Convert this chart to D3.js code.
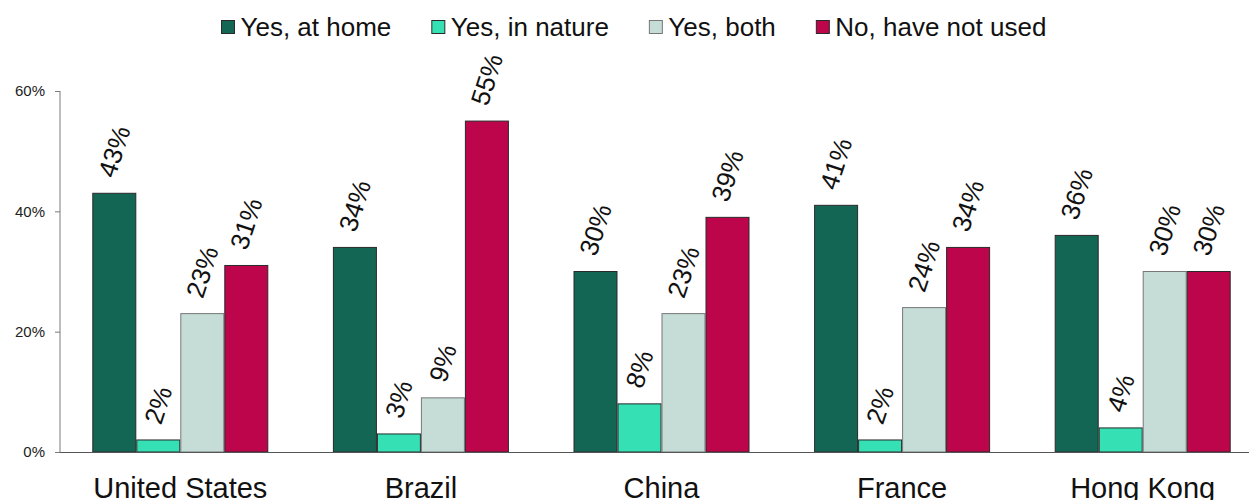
<!DOCTYPE html>
<html><head><meta charset="utf-8">
<script src="https://cdn.jsdelivr.net/npm/d3@7"></script>
<style>
html,body{margin:0;padding:0;background:#fff;}
svg{display:block;font-family:"Liberation Sans",Arial,sans-serif;}
</style></head>
<body><svg id="chart" width="1249" height="500"></svg>
<script>
const categories = ["United States","Brazil","China","France","Hong Kong"];
const seriesNames = ["Yes, at home","Yes, in nature","Yes, both","No, have not used"];
const atHome   = [43,34,30,41,36];
const inNature = [2,3,8,2,4];
const both     = [23,9,23,24,30];
const notUsed  = [31,55,39,34,30];
const yTicks = [0,20,40,60];
const colors = ["#136654","#34E0B4","#C6DDD7","#BD054C"];
const strokes = ["#2a2a2a","#2a2a2a","#777777","#2a2a2a"];

const seriesValues = [atHome,inNature,both,notUsed];
const data = categories.map((c,i)=>({cat:c, vals: seriesNames.map((s,j)=>({s, j, v: seriesValues[j][i]}))}));

const svg = d3.select("#chart");
const axisX = 60, y0 = 452, yTop = 91;
const y = d3.scaleLinear().domain([0,60]).range([y0,yTop]);
const x0 = d3.scaleBand().domain(categories).range([axisX, axisX+5*240.6]).padding(0);
const x1 = d3.scaleBand().domain(seriesNames).range([32.3, x0.bandwidth()-32.3]).padding(0);

// bars
const g = svg.append("g");
const groups = g.selectAll("g.grp").data(data).join("g")
  .attr("transform", d=>`translate(${x0(d.cat)},0)`);
groups.selectAll("rect").data(d=>d.vals).join("rect")
  .attr("x", d=>x1(d.s)+0.5)
  .attr("y", d=>y(d.v))
  .attr("width", x1.bandwidth()-1)
  .attr("height", d=>y0-y(d.v))
  .attr("fill", d=>colors[d.j])
  .attr("stroke", d=>strokes[d.j])
  .attr("stroke-width",1);

// value labels
const angle = -72;
groups.selectAll("text.val").data(d=>d.vals).join("text")
  .attr("class","val")
  .text(d=>d.v+"%")
  .attr("font-size","26px")
  .attr("fill","#111")
  .attr("text-anchor","middle")
  .attr("dominant-baseline","central")
  .each(function(d){
    const L = this.getComputedTextLength();
    const h = 19;
    const a = Math.abs(angle)*Math.PI/180;
    const H = L*Math.sin(a) + h*Math.cos(a);
    const cx = x1(d.s) + x1.bandwidth()/2;
    const cy = y(d.v) - 14 - H/2;
    d3.select(this).attr("transform", `translate(${cx},${cy}) rotate(${angle})`);
  });

// y axis
const yAxis = d3.axisLeft(y).tickValues(yTicks).tickFormat(d=>d+"%").tickSize(5).tickPadding(10);
const ya = svg.append("g").attr("transform",`translate(${axisX},0)`).call(yAxis);
ya.select(".domain").attr("stroke","#7a7a7a").attr("d",`M-0,${yTop}V${y0}`);
ya.selectAll(".tick line").attr("stroke","#7a7a7a");
ya.selectAll(".tick text").attr("font-size","15px").attr("fill","#222").attr("font-family","Liberation Sans, Arial, sans-serif");

// x axis
const xAxis = d3.axisBottom(x0).tickSize(0).tickPadding(0);
const xa = svg.append("g").attr("transform",`translate(0,${y0})`).call(xAxis);
xa.select(".domain").attr("stroke","#555").attr("d",`M${axisX},0.5H1249`);
xa.selectAll(".tick text").attr("font-size","29px").attr("fill","#111")
  .attr("font-family","Liberation Sans, Arial, sans-serif")
  .attr("dy",null).attr("y",46);

// legend
const legend = svg.append("g");
let lx = 221;
seriesNames.forEach((s,j)=>{
  const it = legend.append("g").attr("transform",`translate(${lx},0)`);
  it.append("rect").attr("x",0.5).attr("y",20.5).attr("width",13).attr("height",13)
    .attr("fill",colors[j]).attr("stroke",strokes[j]);
  const t = it.append("text").attr("x",19.5).attr("y",36).attr("font-size","26px").attr("fill","#111").text(s);
  lx += 19.5 + t.node().getComputedTextLength() + 40;
});
</script></body></html>
